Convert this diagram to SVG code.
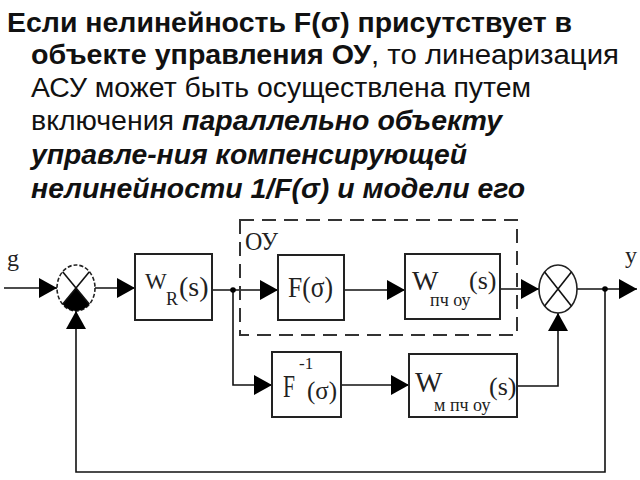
<svg xmlns="http://www.w3.org/2000/svg" width="640" height="480" viewBox="0 0 640 480">
<style>
.h{font-family:"Liberation Sans",Arial,sans-serif;font-size:27px;fill:#111}
.b{font-weight:bold}
.bi{font-weight:bold;font-style:italic}
.s{font-family:"Liberation Serif","Times New Roman",serif;fill:#222}
.box{fill:none;stroke:#222;stroke-width:2}
.w{fill:none;stroke:#111;stroke-width:1.6}
</style>
<defs>
<marker id="a" markerUnits="userSpaceOnUse" markerWidth="18" markerHeight="20" refX="18" refY="10" orient="auto" viewBox="0 0 18 20">
<path d="M0,0 L18,10 L0,20 Z" fill="#000"/>
</marker>
</defs>
<rect width="640" height="480" fill="#fff"/>
<g id="header">
<text class="h b" x="7" y="32" textLength="565" lengthAdjust="spacingAndGlyphs">Если нелинейность F(σ) присутствует в</text>
<text class="h b" x="31" y="64" textLength="340" lengthAdjust="spacingAndGlyphs">объекте управления ОУ</text>
<text class="h" x="371" y="64" textLength="248" lengthAdjust="spacingAndGlyphs">, то линеаризация</text>
<text class="h" x="31" y="97" textLength="500" lengthAdjust="spacingAndGlyphs">АСУ может быть осуществлена путем</text>
<text class="h" x="31" y="130" textLength="143" lengthAdjust="spacingAndGlyphs">включения</text>
<text class="h bi" x="182" y="130" textLength="320" lengthAdjust="spacingAndGlyphs">параллельно объекту</text>
<text class="h bi" x="31" y="164" textLength="436" lengthAdjust="spacingAndGlyphs">управле-ния компенсирующей</text>
<text class="h bi" x="31" y="198" textLength="494" lengthAdjust="spacingAndGlyphs">нелинейности 1/F(σ) и модели его</text>
</g>
<g id="connectors">
<line class="w" x1="4" y1="288" x2="57" y2="288" marker-end="url(#a)"/>
<line class="w" x1="95" y1="288" x2="135" y2="288" marker-end="url(#a)"/>
<line class="w" x1="212" y1="290" x2="278" y2="290" marker-end="url(#a)"/>
<line class="w" x1="344" y1="290" x2="405" y2="290" marker-end="url(#a)"/>
<line class="w" x1="500" y1="289" x2="539" y2="289" marker-end="url(#a)"/>
<line class="w" x1="577" y1="289" x2="637" y2="289" marker-end="url(#a)"/>
<polyline class="w" points="605,289 605,472 76,472 76,311" marker-end="url(#a)"/>
<polyline class="w" points="233,290 233,385 272,385" marker-end="url(#a)"/>
<line class="w" x1="341" y1="385" x2="409" y2="385" marker-end="url(#a)"/>
<polyline class="w" points="517,386 558,386 558,313" marker-end="url(#a)"/>
<circle cx="233" cy="290" r="2.8" fill="#000"/>
<circle cx="605" cy="289" r="2.8" fill="#000"/>
</g>
<g id="labels">
<text class="s" x="7" y="266" font-size="24">g</text>
<text class="s" x="625" y="263" font-size="24">y</text>
</g>
<g id="ou">
<rect x="240" y="220" width="277" height="115" fill="none" stroke="#333" stroke-width="2" stroke-dasharray="14 8"/>
<text class="s" x="245" y="250" font-size="25" textLength="33" lengthAdjust="spacingAndGlyphs">ОУ</text>
</g>
<g id="sum1">
<ellipse cx="76" cy="288" rx="19" ry="23" fill="#fff" stroke="#222" stroke-width="1.6" stroke-dasharray="4 2"/>
<path d="M76,288 L62.6,304.3 A19,23 0 0 0 89.4,304.3 Z" fill="#000"/>
<line class="w" x1="62.6" y1="271.7" x2="89.4" y2="304.3"/>
<line class="w" x1="89.4" y1="271.7" x2="62.6" y2="304.3"/>
</g>
<g id="sum2">
<ellipse cx="558" cy="289" rx="19" ry="24" fill="#fff" stroke="#222" stroke-width="1.6"/>
<line class="w" x1="544.6" y1="272" x2="571.4" y2="306"/>
<line class="w" x1="571.4" y1="272" x2="544.6" y2="306"/>
</g>
<g id="wr">
<rect class="box" x="135" y="254" width="77" height="66"/>
<text class="s" x="145" y="289" font-size="23">W</text>
<text class="s" x="166" y="305" font-size="18">R</text>
<text class="s" x="179" y="296" font-size="28">(s)</text>
</g>
<g id="f">
<rect class="box" x="278" y="255" width="66" height="65"/>
<text class="s" x="288" y="297" font-size="30" textLength="45" lengthAdjust="spacingAndGlyphs">F(σ)</text>
</g>
<g id="wpch">
<rect class="box" x="405" y="254" width="95" height="65"/>
<text class="s" x="412" y="290" font-size="28">W</text>
<text class="s" x="430" y="306" font-size="18">пч оу</text>
<text class="s" x="469" y="289" font-size="26">(s)</text>
</g>
<g id="finv">
<rect class="box" x="272" y="352" width="69" height="65"/>
<text class="s" x="283" y="397" font-size="32" textLength="12" lengthAdjust="spacingAndGlyphs">F</text>
<text class="s" x="299" y="369" font-size="17">-1</text>
<text class="s" x="307" y="399" font-size="25">(σ)</text>
</g>
<g id="wm">
<rect class="box" x="409" y="354" width="108" height="63"/>
<text class="s" x="415" y="392" font-size="29">W</text>
<text class="s" x="434" y="411" font-size="18">м пч оу</text>
<text class="s" x="489" y="395" font-size="26">(s)</text>
</g>
</svg>
